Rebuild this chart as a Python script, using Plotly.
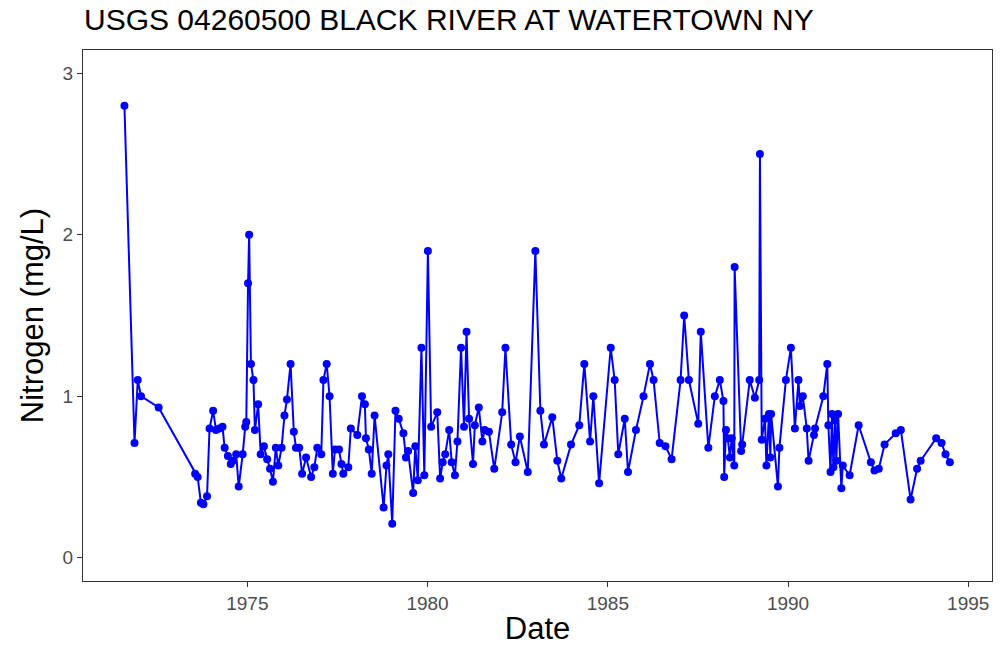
import pandas as pd
import plotly.graph_objects as go

# Sample dates (decimal years) and total nitrogen (mg/L)
decimal_years = [
    1971.59, 1971.87, 1971.96, 1972.05, 1972.54, 1973.55, 1973.62, 1973.71, 1973.78, 1973.88,
    1973.95, 1974.05, 1974.13, 1974.22, 1974.31, 1974.37, 1974.46, 1974.54, 1974.60, 1974.69,
    1974.76, 1974.87, 1974.94, 1974.97, 1975.02, 1975.05, 1975.10, 1975.17, 1975.21, 1975.30,
    1975.37, 1975.46, 1975.55, 1975.63, 1975.71, 1975.79, 1975.86, 1975.95, 1976.03, 1976.10,
    1976.20, 1976.29, 1976.35, 1976.44, 1976.52, 1976.63, 1976.77, 1976.86, 1976.94, 1977.05,
    1977.11, 1977.20, 1977.28, 1977.37, 1977.43, 1977.54, 1977.61, 1977.66, 1977.80, 1977.87,
    1978.05, 1978.18, 1978.26, 1978.29, 1978.37, 1978.45, 1978.53, 1978.78, 1978.86, 1978.91,
    1979.02, 1979.11, 1979.20, 1979.33, 1979.40, 1979.46, 1979.60, 1979.66, 1979.73, 1979.83,
    1979.91, 1980.01, 1980.10, 1980.27, 1980.35, 1980.42, 1980.49, 1980.60, 1980.67, 1980.76,
    1980.83, 1980.93, 1981.01, 1981.08, 1981.15, 1981.26, 1981.31, 1981.42, 1981.52, 1981.58,
    1981.70, 1981.85, 1982.07, 1982.16, 1982.32, 1982.44, 1982.56, 1982.78, 1982.99, 1983.13,
    1983.23, 1983.46, 1983.60, 1983.71, 1983.98, 1984.21, 1984.35, 1984.51, 1984.60, 1984.76,
    1985.08, 1985.19, 1985.29, 1985.47, 1985.56, 1985.78, 1985.99, 1986.17, 1986.27, 1986.44,
    1986.60, 1986.77, 1987.02, 1987.12, 1987.25, 1987.51, 1987.58, 1987.79, 1987.97, 1988.11,
    1988.21, 1988.23, 1988.28, 1988.33, 1988.39, 1988.44, 1988.51, 1988.52, 1988.70, 1988.73,
    1988.94, 1989.08, 1989.20, 1989.22, 1989.27, 1989.36, 1989.40, 1989.47, 1989.51, 1989.53,
    1989.72, 1989.76, 1989.94, 1990.08, 1990.19, 1990.29, 1990.33, 1990.41, 1990.52, 1990.57,
    1990.72, 1990.75, 1990.98, 1991.09, 1991.12, 1991.18, 1991.22, 1991.26, 1991.31, 1991.34,
    1991.39, 1991.48, 1991.52, 1991.71, 1991.96, 1992.30, 1992.40, 1992.52, 1992.68, 1992.99,
    1993.13, 1993.40, 1993.58, 1993.68, 1994.11, 1994.26, 1994.37, 1994.49,
]
nitrogen = [
    2.80, 0.71, 1.10, 1.00, 0.93, 0.52, 0.50, 0.34, 0.33, 0.38,
    0.80, 0.91, 0.79, 0.80, 0.81, 0.68, 0.63, 0.58, 0.60, 0.64,
    0.44, 0.64, 0.81, 0.84, 1.70, 2.00, 1.20, 1.10, 0.79, 0.95,
    0.64, 0.69, 0.61, 0.55, 0.47, 0.68, 0.57, 0.68, 0.88, 0.98,
    1.20, 0.78, 0.68, 0.68, 0.52, 0.62, 0.50, 0.56, 0.68, 0.64,
    1.10, 1.20, 1.00, 0.52, 0.67, 0.67, 0.58, 0.52, 0.56, 0.80,
    0.76, 1.00, 0.95, 0.74, 0.67, 0.52, 0.88, 0.31, 0.57, 0.64,
    0.21, 0.91, 0.86, 0.77, 0.62, 0.66, 0.40, 0.69, 0.48, 1.30,
    0.51, 1.90, 0.81, 0.90, 0.49, 0.59, 0.64, 0.79, 0.59, 0.51,
    0.72, 1.30, 0.81, 1.40, 0.86, 0.58, 0.82, 0.93, 0.72, 0.79,
    0.78, 0.55, 0.90, 1.30, 0.70, 0.59, 0.75, 0.53, 1.90, 0.91,
    0.70, 0.87, 0.60, 0.49, 0.70, 0.82, 1.20, 0.72, 1.00, 0.46,
    1.30, 1.10, 0.64, 0.86, 0.53, 0.79, 1.00, 1.20, 1.10, 0.71,
    0.69, 0.61, 1.10, 1.50, 1.10, 0.83, 1.40, 0.68, 1.00, 1.10,
    0.97, 0.50, 0.79, 0.74, 0.62, 0.74, 0.57, 1.80, 0.66, 0.70,
    1.10, 0.99, 1.10, 2.50, 0.73, 0.86, 0.57, 0.89, 0.62, 0.89,
    0.44, 0.68, 1.10, 1.30, 0.80, 1.10, 0.94, 1.00, 0.80, 0.60,
    0.76, 0.80, 1.00, 1.20, 0.82, 0.53, 0.89, 0.56, 0.85, 0.60,
    0.89, 0.43, 0.57, 0.51, 0.82, 0.59, 0.54, 0.55, 0.70, 0.77,
    0.79, 0.36, 0.55, 0.60, 0.74, 0.71, 0.64, 0.59,
]
x_tick_years = [1975, 1980, 1985, 1990, 1995]
y_tick_values = [0, 1, 2, 3]
x_range_years = [1970.44, 1995.66]
y_range = [-0.145, 3.145]

title_text = "USGS 04260500 BLACK RIVER AT WATERTOWN NY"
x_title = "Date"
y_title = "Nitrogen (mg/L)"


def to_date(y):
    yr = int(y)
    return pd.Timestamp(year=yr, month=1, day=1) + pd.Timedelta(days=(y - yr) * 365.25)


dates = [to_date(y) for y in decimal_years]

fig = go.Figure()
fig.add_trace(go.Scatter(
    x=dates, y=nitrogen, mode="lines+markers",
    line=dict(color="#0000FF", width=2),
    marker=dict(color="#0000FF", size=8),
    showlegend=False,
))

font_family = "Liberation Sans, Arial, sans-serif"
fig.update_layout(
    width=1006, height=646,
    paper_bgcolor="white", plot_bgcolor="white",
    margin=dict(l=83, r=14, t=50, b=65),
    font=dict(family=font_family),
    title=dict(text=title_text, x=84 / 1006, xanchor="left", xref="container",
               y=1 - 19 / 646, yanchor="middle", yref="container",
               font=dict(size=30, color="black", family=font_family)),
)
fig.update_xaxes(
    type="date",
    range=[to_date(x_range_years[0]), to_date(x_range_years[1])],
    tickvals=[pd.Timestamp(year=y, month=1, day=1) for y in x_tick_years],
    ticktext=[str(y) for y in x_tick_years],
    showgrid=False, zeroline=False, automargin=False,
    showline=True, mirror=True, linecolor="#333333", linewidth=1,
    ticks="outside", ticklen=5, tickcolor="#333333",
    tickfont=dict(size=19, color="#4D4D4D"),
    title=dict(text=x_title, font=dict(size=31, color="black"), standoff=5),
)
fig.update_yaxes(
    range=y_range,
    tickvals=y_tick_values,
    showgrid=False, zeroline=False, automargin=False,
    showline=True, mirror=True, linecolor="#333333", linewidth=1,
    ticks="outside", ticklen=5, tickcolor="#333333",
    tickfont=dict(size=19, color="#4D4D4D"),
    title=dict(text=y_title, font=dict(size=31, color="black"), standoff=9),
)

fig.write_html("out.html", config={"displayModeBar": False},
               post_script="document.body.style.margin='0';")
